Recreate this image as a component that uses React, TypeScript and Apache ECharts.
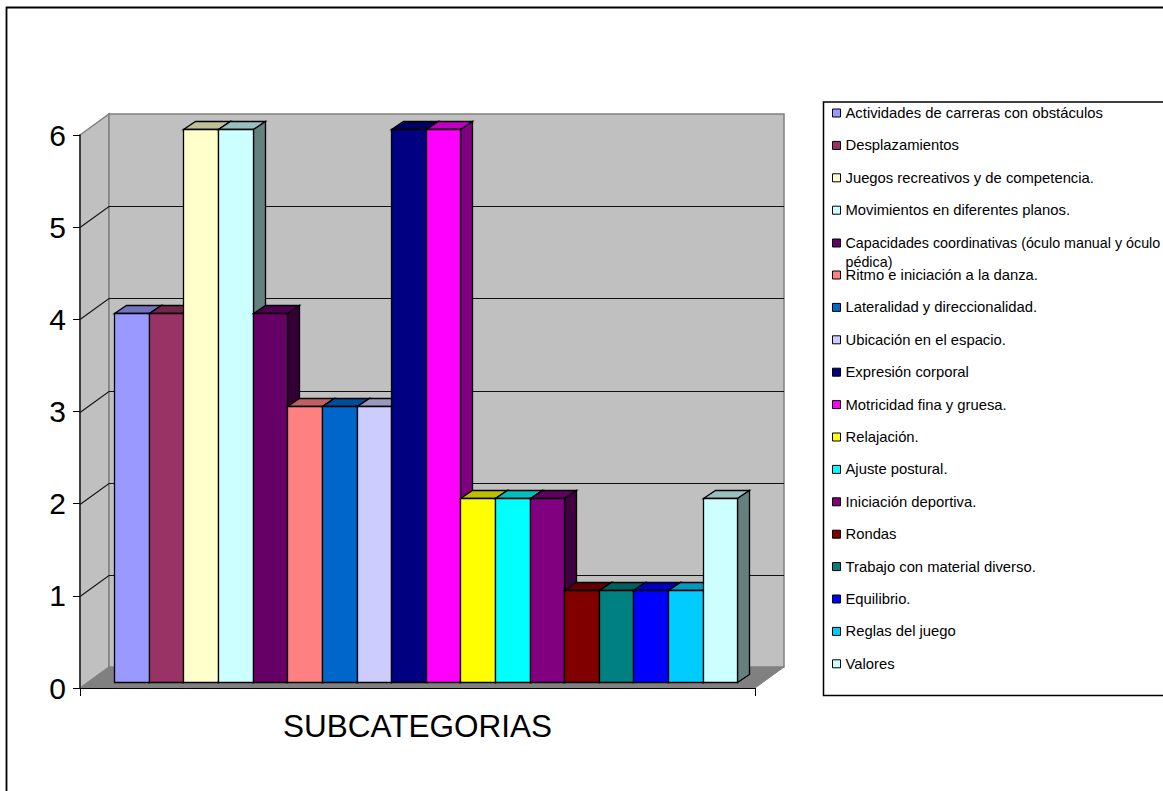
import React, { useEffect, useRef } from "react";
import * as echarts from "echarts";

const categoryLabels = ["SUBCATEGORIAS"];
const yMax = 6;
const yTicks = [1, 2, 3, 4, 5];
const seriesNames = [
  "Actividades de carreras con obstáculos",
  "Desplazamientos",
  "Juegos recreativos y de competencia.",
  "Movimientos en diferentes planos.",
  "Capacidades coordinativas (óculo manual y óculo pédica)",
  "Ritmo e iniciación a la danza.",
  "Lateralidad y direccionalidad.",
  "Ubicación en el espacio.",
  "Expresión corporal",
  "Motricidad fina y gruesa.",
  "Relajación.",
  "Ajuste postural.",
  "Iniciación deportiva.",
  "Rondas",
  "Trabajo con material diverso.",
  "Equilibrio.",
  "Reglas del juego",
  "Valores",
];
const seriesValues = [4, 4, 6, 6, 4, 3, 3, 3, 6, 6, 2, 2, 2, 1, 1, 1, 1, 2];
const seriesColors = [
  "#9999FF", "#993366", "#FFFFCC", "#CCFFFF", "#660066", "#FF8080",
  "#0066CC", "#CCCCFF", "#000080", "#FF00FF", "#FFFF00", "#00FFFF",
  "#800080", "#800000", "#008080", "#0000FF", "#00CCFF", "#CCFFFF",
];

const FONT = "'Liberation Sans', Arial, sans-serif";
const WALL_DX = 29;
const WALL_DY = -21;
const PLANE_DX = 8.3;
const PLANE_DY = -6;
const BAR_DX = 12;
const BAR_DY = -8;
const GAP = 1.5;

function shade(hex: string, k: number) {
  const n = parseInt(hex.slice(1), 16);
  const r = Math.round(((n >> 16) & 255) * k);
  const g = Math.round(((n >> 8) & 255) * k);
  const b = Math.round((n & 255) * k);
  return `rgb(${r},${g},${b})`;
}

const snap = (v: number) => Math.round(v) + 0.5;

function renderWalls(_: any, api: any) {
  const [x0, y0] = api.coord([0, 0]);
  const [, yTop] = api.coord([0, yMax]);
  const w = api.size([1, 0])[0];
  const xL = x0 - w / 2;
  const xR = x0 + w / 2;
  const gray = "#808080";
  const children: any[] = [
    {
      type: "polygon",
      shape: { points: [[xL, y0], [xL + WALL_DX, y0 + WALL_DY], [xR + WALL_DX, y0 + WALL_DY], [xR, y0]] },
      style: { fill: gray, stroke: gray, lineWidth: 1 },
    },
    {
      type: "polygon",
      shape: { points: [[xL, yTop], [xL + WALL_DX, yTop + WALL_DY], [xL + WALL_DX, y0 + WALL_DY], [xL, y0]] },
      style: { fill: "#C0C0C0", stroke: gray, lineWidth: 1.5 },
    },
    {
      type: "rect",
      shape: { x: xL + WALL_DX, y: yTop + WALL_DY, width: w, height: y0 - yTop },
      style: { fill: "#C0C0C0", stroke: gray, lineWidth: 1.5 },
    },
  ];
  yTicks.forEach((t) => {
    const y = snap(api.coord([0, t])[1]);
    children.push({
      type: "polyline",
      shape: { points: [[xL, y], [xL + WALL_DX, y + WALL_DY], [xR + WALL_DX, y + WALL_DY]] },
      style: { fill: "none", stroke: "#111", lineWidth: 1.1 },
    });
  });
  return { type: "group", children };
}

function makeBarRenderer(index: number, color: string) {
  return (_: any, api: any) => {
    const val = api.value(1);
    const base = api.coord([0, 0]);
    const top = api.coord([0, val]);
    const band = api.size([1, 0])[0];
    const bw = band / (seriesValues.length + GAP);
    const xL = base[0] - band / 2 + PLANE_DX + (GAP / 2 + index) * bw;
    const xA = snap(xL);
    const xB = snap(xL + bw);
    const yT = snap(top[1] + PLANE_DY);
    const yB = snap(base[1] + PLANE_DY);
    const line = { stroke: "#000", lineWidth: 1.3, lineJoin: "miter" };
    return {
      type: "group",
      children: [
        {
          type: "polygon",
          shape: { points: [[xA, yT], [xA + BAR_DX, yT + BAR_DY], [xB + BAR_DX, yT + BAR_DY], [xB, yT]] },
          style: { fill: shade(color, 0.75), ...line },
        },
        {
          type: "polygon",
          shape: { points: [[xB, yT], [xB + BAR_DX, yT + BAR_DY], [xB + BAR_DX, yB + BAR_DY], [xB, yB]] },
          style: { fill: shade(color, 0.5), ...line },
        },
        {
          type: "rect",
          shape: { x: xA, y: yT, width: xB - xA, height: yB - yT },
          style: { fill: color, ...line },
        },
      ],
    };
  };
}

function legendBase(names: any[], top: number) {
  return {
    show: true,
    orient: "vertical" as const,
    left: 832,
    top,
    padding: 0,
    itemGap: 17.4,
    itemWidth: 8,
    itemHeight: 8,
    icon: "rect",
    selectedMode: false,
    data: names,
    itemStyle: { borderColor: "#000", borderWidth: 1 },
    textStyle: { fontFamily: FONT, fontSize: 14.8, lineHeight: 15, color: "#000" },
    formatter: (n: string) => (n.includes("óculo pédica") ? "\n" + n.replace("óculo pédica", "óculo\npédica") : n),
  };
}

export default function App() {
  const ref = useRef<HTMLDivElement>(null);
  useEffect(() => {
    if (!ref.current) return;
    const chart = echarts.init(ref.current, undefined, { renderer: "svg" });
    chart.setOption({
      animation: false,
      backgroundColor: "#fff",
      grid: { left: 80, top: 135, width: 675, height: 553 },
      xAxis: {
        type: "category",
        data: categoryLabels,
        z: 10,
        axisLine: { lineStyle: { color: "#000", width: 1 } },
        axisTick: { show: true, length: 8, lineStyle: { color: "#000" } },
        axisLabel: { fontFamily: FONT, fontSize: 31.5, color: "#000", margin: 22 },
      },
      yAxis: {
        type: "value",
        min: 0,
        max: yMax,
        interval: 1,
        z: 10,
        axisLine: { show: true, lineStyle: { color: "#222", width: 1.5 } },
        axisTick: { show: true, length: 7, lineStyle: { color: "#000" } },
        splitLine: { show: false },
        axisLabel: { fontFamily: FONT, fontSize: 30, color: "#000", margin: 14, padding: [3, 0, 0, 0] },
      },
      legend: [
        legendBase(seriesNames.slice(0, 4), 105.5),
        {
          ...legendBase([seriesNames[4]], 243 - 28.5),
          textStyle: { fontFamily: FONT, fontSize: 14.3, lineHeight: 19, color: "#000" },
        },
        legendBase(seriesNames.slice(5), 267.5),
      ],
      graphic: [
        {
          type: "rect",
          silent: true,
          z: -1,
          shape: { x: 6.5, y: 7.5, width: 1300, height: 1000 },
          style: { fill: "none", stroke: "#000", lineWidth: 1.8 },
        },
        {
          type: "rect",
          silent: true,
          z: -1,
          shape: { x: 823.5, y: 102, width: 500, height: 593.5 },
          style: { fill: "#fff", stroke: "#000", lineWidth: 1.5 },
        },
      ],
      series: [
        {
          type: "custom",
          name: "walls",
          z: 1,
          silent: true,
          renderItem: renderWalls,
          encode: { x: 0, y: 1 },
          data: [[0, 0]],
        },
        ...seriesNames.map((name, i) => ({
          type: "custom",
          name,
          z: 2 + i,
          silent: true,
          itemStyle: { color: seriesColors[i] },
          renderItem: makeBarRenderer(i, seriesColors[i]),
          encode: { x: 0, y: 1 },
          data: [[0, seriesValues[i]]],
        })),
      ],
    });
    return () => chart.dispose();
  }, []);
  return (
    <div
      ref={ref}
      style={{ position: "fixed", left: 0, top: 0, width: 1163, height: 791 }}
    />
  );
}
